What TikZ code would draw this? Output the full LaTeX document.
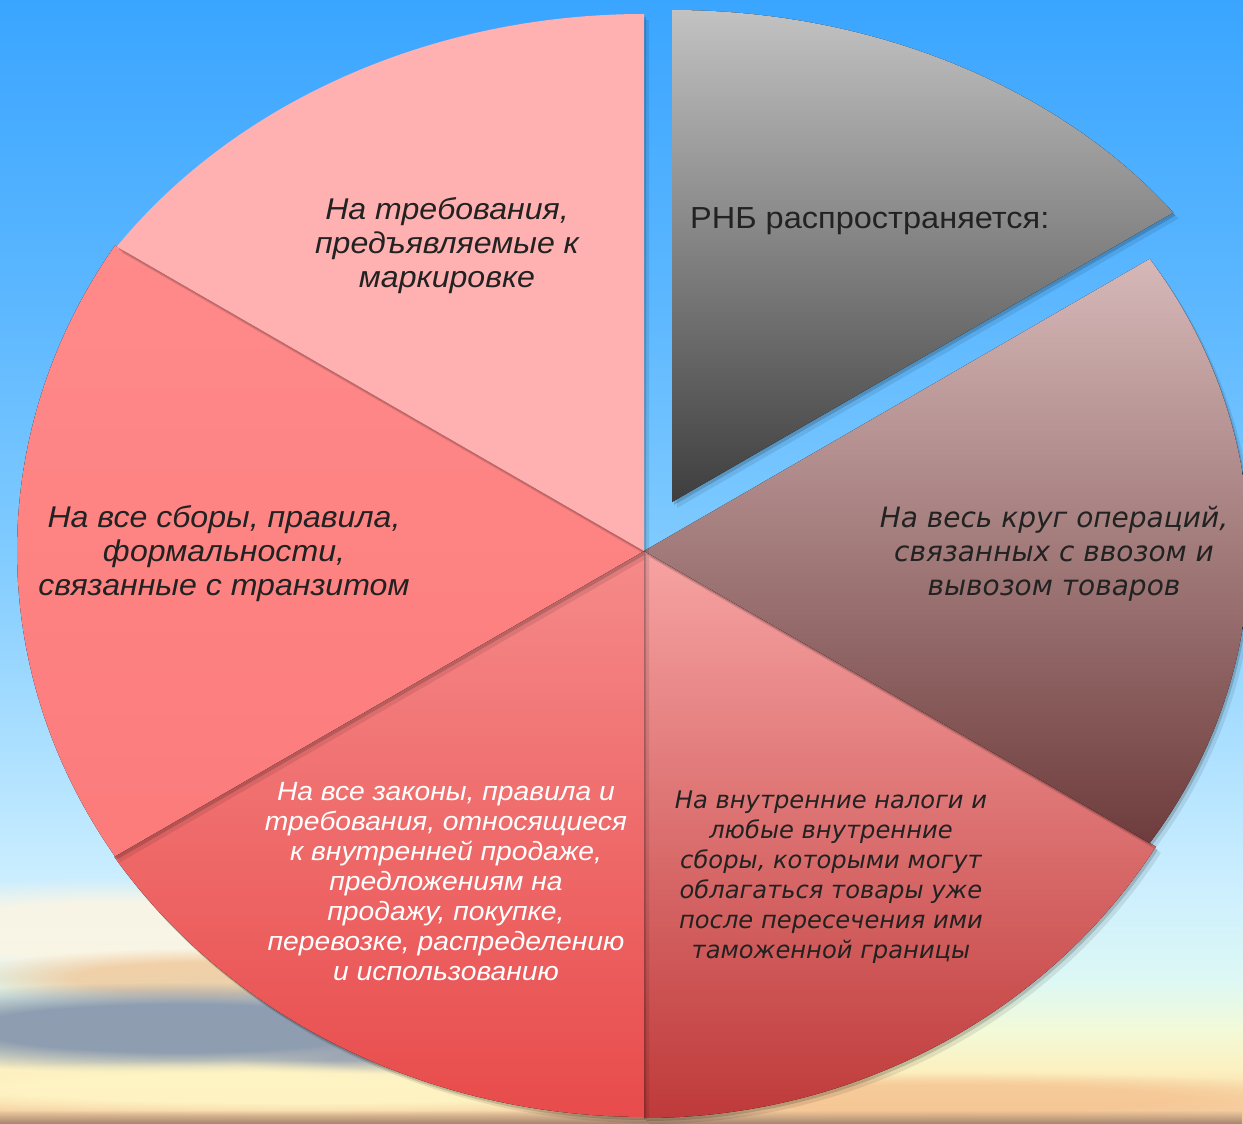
\documentclass[tikz,border=0pt]{standalone}
\usepackage{fontspec}
\setmainfont{Liberation Sans}[FakeStretch=1.07]
\newfontfamily\widefont{DejaVu Sans}
\usetikzlibrary{fadings}
\pgfdeclareradialshading{cloudfadesh}{\pgfpointorigin}{color(0bp)=(white); color(13bp)=(white); color(25bp)=(black); color(50bp)=(black)}
\pgfdeclarefading{cloudfade}{\pgfuseshading{cloudfadesh}}
\definecolor{txt}{HTML}{222222}
\definecolor{cTL}{HTML}{FFB0B0}
\definecolor{cLtop}{HTML}{FF8A8A}
\definecolor{cLbot}{HTML}{FC7B7B}
\definecolor{cBLtop}{HTML}{F68A8A}
\definecolor{cBLbot}{HTML}{E84B4B}
\definecolor{cBRtop}{HTML}{F7A3A3}
\definecolor{cBRbot}{HTML}{BF3A3A}
\definecolor{cRtop}{HTML}{D6B8B8}
\definecolor{cRbot}{HTML}{6E3C3C}
\definecolor{cGtop}{HTML}{C2C2C2}
\definecolor{cGbot}{HTML}{3E3E3E}
\definecolor{s0}{HTML}{3AA5FF}
\definecolor{s1}{HTML}{5CB7FF}
\definecolor{s2}{HTML}{80CBFF}
\definecolor{s3}{HTML}{ADE0FF}
\definecolor{s4}{HTML}{CBEEFF}
\definecolor{s5}{HTML}{DDF8F4}
\definecolor{s6}{HTML}{F2FAD8}
\definecolor{s7}{HTML}{FCF0C0}
\definecolor{s8}{HTML}{F7D6A6}
\definecolor{s9}{HTML}{F0C8A0}
\pgfdeclareverticalshading{skyshade}{100bp}{color(0bp)=(s9); color(25bp)=(s9); color(26.1bp)=(s8); color(27.4bp)=(s7); color(29.2bp)=(s6); color(31.4bp)=(s5); color(35.9bp)=(s4); color(41.6bp)=(s3); color(50.5bp)=(s2); color(61.7bp)=(s1); color(75bp)=(s0); color(100bp)=(s0)}
\def\pTL{(644,551) -- (644,14) arc[start angle=270, end angle=214.53, x radius=640, y radius=537] -- cycle}
\def\pL{(644,551) -- (115,245.6) arc[start angle=212.46, end angle=147.54, x radius=627, y radius=569] -- cycle}
\def\pBL{(644,551) -- (114.3,856.8) arc[start angle=147.23, end angle=90, x radius=630, y radius=567] -- cycle}
\def\pBR{(644,551) -- (644,1118) arc[start angle=90, end angle=31.43, x radius=600, y radius=567] -- cycle}
\def\pR{(644,551) -- (1149.7,258.9) arc[start angle=-33.3, end angle=33.3, x radius=605, y radius=532] -- cycle}
\def\pG{(672,502) -- (672,10) arc[start angle=270, end angle=323.96, x radius=620, y radius=492] -- cycle}
\tikzset{
  shadowA/.style={black,opacity=0.16,shift={(2,3)}},
  shadowB/.style={black,opacity=0.09,shift={(5,6)}},
  lbl/.style={align=center,text=txt,inner sep=0pt,font=\fontsize{30}{34}\selectfont\itshape},
  lblsmall/.style={align=center,text=txt,inner sep=0pt,font=\fontsize{26.4}{30}\selectfont\itshape},
  lblwide/.style={align=center,text=txt,inner sep=0pt,font=\widefont\fontsize{28}{34}\selectfont\itshape},
  lblwidesmall/.style={align=center,text=txt,inner sep=0pt,font=\widefont\fontsize{24.2}{30}\selectfont\itshape},
  cloud/.style={path fading=cloudfade}
}
\begin{document}
\begin{tikzpicture}[x=1pt,y=-1pt]
\useasboundingbox (0,0) rectangle (1243,1124);
% sky
\fill[shading=skyshade] (0,0) rectangle (1243,1124);
% clouds
\fill[cloud,fill={rgb,255:red,252;green,245;blue,228},opacity=0.9] (110,930) ellipse[x radius=330,y radius=52];
\fill[cloud,fill={rgb,255:red,243;green,196;blue,146},opacity=0.75] (210,978) ellipse[x radius=260,y radius=30];
\fill[cloud,fill={rgb,255:red,138;green,153;blue,175},opacity=0.95] (180,1028) ellipse[x radius=390,y radius=46];
\fill[cloud,fill={rgb,255:red,150;green,160;blue,178},opacity=0.8] (430,1060) ellipse[x radius=190,y radius=22];
\fill[cloud,fill={rgb,255:red,255;green,244;blue,196},opacity=0.95] (300,1088) ellipse[x radius=560,y radius=28];
\fill[cloud,fill={rgb,255:red,246;green,196;blue,146},opacity=0.75] (950,1098) ellipse[x radius=420,y radius=26];
\fill[path fading=north,fill={rgb,255:red,140;green,110;blue,92},opacity=0.75] (0,1110) rectangle (1243,1124);
% sectors: shadows then fills
\fill[shadowB] \pBR; \fill[shadowA] \pBR;
\fill[top color=cBRtop,bottom color=cBRbot] \pBR;
\fill[shadowB] \pR; \fill[shadowA] \pR;
\fill[top color=cRtop,bottom color=cRbot] \pR;
\fill[shadowB] \pBL; \fill[shadowA] \pBL;
\fill[top color=cBLtop,bottom color=cBLbot] \pBL;
\fill[shadowB] \pL; \fill[shadowA] \pL;
\fill[top color=cLtop,bottom color=cLbot] \pL;
\fill[shadowB] \pTL; \fill[shadowA] \pTL;
\fill[cTL] \pTL;
\fill[shadowB] \pG; \fill[shadowA] \pG;
\fill[top color=cGtop,bottom color=cGbot] \pG;
% labels
\node[lbl] (tl) at (447,246) {На требования,\\предъявляемые к\\маркировке};
\node[lbl,font=\fontsize{30.4}{34}\selectfont,anchor=west] (g) at (690,221) {РНБ распространяется:};
\node[lbl] (l) at (224,554) {На все сборы, правила,\\формальности,\\связанные с транзитом};
\node[lblwide] (r) at (1054,554) {На весь круг операций,\\связанных с ввозом и\\вывозом товаров};
\node[lblsmall,text=white] (bl) at (446,882) {На все законы, правила и\\требования, относящиеся\\к внутренней продаже,\\предложениям на\\продажу, покупке,\\перевозке, распределению\\и использованию};
\node[lblwidesmall] (br) at (831,877) {На внутренние налоги и\\любые внутренние\\сборы, которыми могут\\облагаться товары уже\\после пересечения ими\\таможенной границы};
\end{tikzpicture}
\end{document}
